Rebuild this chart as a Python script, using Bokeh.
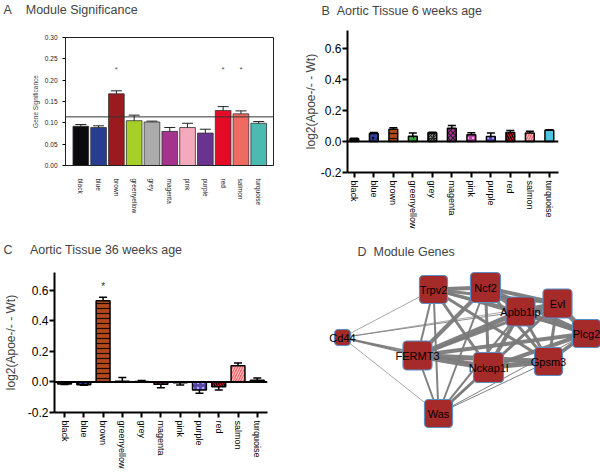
from bokeh.plotting import figure
from bokeh.layouts import column, row
from bokeh.models import (Range1d, FixedTicker, PrintfTickFormatter, Span, Whisker,
                          TeeHead, ColumnDataSource, Title)
from bokeh.embed import file_html
from bokeh.resources import INLINE
from bokeh.core.properties import value

FONT = "Liberation Sans"
NB = "\u00a0"

# ---------------- data ----------------
modules = ["black", "blue", "brown", "greenyellow", "grey", "magenta",
           "pink", "purple", "red", "salmon", "turquoise"]

# Panel A: module significance
gs_mean = [0.092, 0.089, 0.168, 0.105, 0.102, 0.080, 0.089, 0.076, 0.129, 0.121, 0.099]
gs_err = [0.004, 0.004, 0.007, 0.013, 0.002, 0.009, 0.010, 0.009, 0.009, 0.007, 0.004]
gs_threshold = 0.114
gs_star_modules = ["brown", "red", "salmon"]
gs_star_level = 0.225
gs_ticks = [0.0, 0.05, 0.10, 0.15, 0.20, 0.25, 0.30]
a_colors = ["#0b0b0d", "#283c92", "#9b1a20", "#a6cf28", "#ababab", "#a3338c",
            "#f4a9bd", "#6b3390", "#e30b25", "#ef6b62", "#4dbab1"]

# Panel B: 6 weeks
wk6_mean = [0.018, 0.052, 0.078, 0.034, 0.056, 0.085, 0.044, 0.032, 0.058, 0.054, 0.072]
wk6_err = [0.003, 0.006, 0.010, 0.020, 0.003, 0.018, 0.012, 0.022, 0.012, 0.012, 0.003]

# Panel C: 36 weeks
wk36_mean = [-0.014, -0.018, 0.530, 0.004, 0.003, -0.016, -0.006, -0.053, -0.032, 0.105, 0.010]
wk36_err = [0.003, 0.004, 0.024, 0.025, 0.006, 0.022, 0.014, 0.021, 0.021, 0.019, 0.015]
wk36_star_modules = ["brown"]
wk36_star_level = 0.625
log_ticks = [-0.2, 0.0, 0.2, 0.4, 0.6]

bc_fill = ["#111111", "#2b3f9e", "#b04a1c", "#3aa83a", "#8a8a8a", "#b0329e",
           "#b040a8", "#5844a8", "#e3102a", "#f25a66", "#4cc4e4"]
bc_hatch = [" ", "dot", "horizontal_line", "vertical_dash", "criss_cross", "diagonal_cross",
            "dot", "dot", "left_diagonal_line", "right_diagonal_line", " "]
bc_hatch_color = ["#000000", "#000000", "#1a0a05", "#0a300a", "#222222", "#222222",
                  "#ff9ad8", "#a8a8ff", "#000000", "#ffc0c0", "#000000"]

# Panel D: network (layout coordinates)
genes = ["Trpv2", "Ncf2", "Apbb1ip", "Evl", "Plcg2", "Gpsm3", "Nckap1l", "FERMT3", "Was", "Cd44"]
gene_x = [133, 185, 220, 257, 286, 248, 188, 117, 138, 42]
gene_y = [29, 27, 51, 43, 73, 101, 107, 95, 153, 77]
gene_size = [28, 30, 29, 29, 28, 28, 30, 29, 28, 16]
edge_from = ["Cd44", "Cd44", "Cd44", "Cd44", "Cd44", "Cd44",
             "Trpv2", "Trpv2", "Trpv2", "Trpv2", "Trpv2", "Trpv2", "Trpv2", "Trpv2",
             "Ncf2", "Ncf2", "Ncf2", "Ncf2", "Ncf2", "Ncf2", "Ncf2",
             "Apbb1ip", "Apbb1ip", "Apbb1ip", "Apbb1ip", "Apbb1ip", "Apbb1ip",
             "Evl", "Evl", "Evl", "Evl", "Evl",
             "Plcg2", "Plcg2", "Plcg2", "Plcg2",
             "FERMT3", "FERMT3", "FERMT3",
             "Nckap1l", "Nckap1l", "Gpsm3"]
edge_to = ["Trpv2", "Apbb1ip", "Evl", "FERMT3", "Nckap1l", "Was",
           "Ncf2", "Apbb1ip", "Evl", "Plcg2", "FERMT3", "Was", "Nckap1l", "Gpsm3",
           "Apbb1ip", "Evl", "Plcg2", "FERMT3", "Nckap1l", "Gpsm3", "Was",
           "Evl", "Plcg2", "FERMT3", "Nckap1l", "Gpsm3", "Was",
           "Plcg2", "FERMT3", "Nckap1l", "Gpsm3", "Was",
           "FERMT3", "Nckap1l", "Gpsm3", "Was",
           "Nckap1l", "Gpsm3", "Was",
           "Gpsm3", "Was", "Was"]
edge_weight = [0.7, 0.9, 0.7, 2.0, 1.4, 0.7,
               4, 3, 3, 2, 2, 2, 3, 3,
               4, 4, 4, 4, 3, 3, 2,
               5, 5, 5, 4, 3, 2,
               5, 3, 3, 3, 1.5,
               4, 4, 4, 1,
               6, 5, 2,
               5, 3, 1]

xi = list(range(len(modules)))


def no_align(p):
    try:
        p.frame_align = False
    except Exception:
        pass


def style_title(p, text, offset, gap, size="12.5px"):
    p.title.text = text
    p.title.text_font = FONT
    p.title.text_font_size = size
    p.title.text_font_style = "normal"
    p.title.align = "left"
    p.title.offset = offset
    p.title.standoff = 0
    if gap > 0:
        # an empty spacer between the panel title and the frame
        p.add_layout(Title(text=NB, text_font_size="1px", standoff=gap), "above")
    else:
        p.title.vertical_align = "top"


# ---------------- Panel A ----------------
pa = figure(width=300, height=240, output_backend="svg", toolbar_location=None,
            x_range=Range1d(-0.86, 10.83), y_range=Range1d(0, 0.30),
            min_border_left=65, min_border_right=27, min_border_top=37, min_border_bottom=75)
no_align(pa)
style_title(pa, "A" + NB * 4 + "Module Significance", -62, 18)
srcA = ColumnDataSource(dict(x=xi, top=gs_mean, color=a_colors,
                             up=[m + e for m, e in zip(gs_mean, gs_err)],
                             lo=[m - e for m, e in zip(gs_mean, gs_err)]))
pa.vbar(x="x", top="top", bottom=0, width=0.88, fill_color="color", line_color="#333333",
        line_width=0.8, source=srcA)
pa.add_layout(Whisker(source=srcA, base="x", upper="up", lower="lo", line_color="#222222",
                      line_width=1,
                      upper_head=TeeHead(size=11, line_color="#222222", line_width=1),
                      lower_head=TeeHead(size=11, line_color="#222222", line_width=1)))
pa.add_layout(Span(location=gs_threshold, dimension="width", line_color="#333333", line_width=1))
pa.text(x=[modules.index(m) for m in gs_star_modules], y=[gs_star_level] * len(gs_star_modules),
        text=["*"] * len(gs_star_modules), text_align="center", text_baseline="middle",
        text_font=value(FONT), text_font_size="8px", text_color="#555555")
pa.grid.visible = False
pa.outline_line_color = "#222222"
pa.outline_line_width = 1
pa.yaxis.ticker = FixedTicker(ticks=gs_ticks)
pa.yaxis.formatter = PrintfTickFormatter(format="%.2f")
pa.yaxis.axis_label = "Gene Significance"
pa.yaxis.axis_label_standoff = 3
pa.yaxis.major_tick_out = 3
pa.yaxis.major_tick_in = 0
pa.xaxis.ticker = FixedTicker(ticks=xi)
pa.xaxis.major_label_overrides = {i: m for i, m in enumerate(modules)}
pa.xaxis.major_label_orientation = "vertical"
pa.xaxis.major_tick_line_color = None
pa.xaxis.major_label_standoff = 7
for ax in pa.axis:
    ax.minor_tick_line_color = None
    ax.axis_line_color = "#222222"
    ax.major_label_text_font = FONT
    ax.major_label_text_font_size = "6.5px"
    ax.major_label_text_color = "#222222"
    ax.axis_label_text_font = FONT
    ax.axis_label_text_font_size = "6.5px"
    ax.axis_label_text_font_style = "normal"


def log_panel(mean, err, title, title_offset, title_gap, bar_w, height, mb,
              label_standoff, stars=None):
    p = figure(width=300, height=height, output_backend="svg", toolbar_location=None,
               x_range=Range1d(mb["xs"], mb["xe"]), y_range=Range1d(-0.2, 0.715),
               min_border_left=mb["l"], min_border_right=mb["r"],
               min_border_top=mb["t"], min_border_bottom=mb["b"])
    no_align(p)
    style_title(p, title, title_offset, title_gap)
    src = ColumnDataSource(dict(x=xi, top=mean, fill=bc_fill, hatch=bc_hatch, hc=bc_hatch_color,
                                tip=[m + e if m >= 0 else m - e for m, e in zip(mean, err)]))
    p.vbar(x="x", top="top", bottom=0, width=bar_w, fill_color="fill", hatch_pattern="hatch",
           hatch_color="hc", hatch_scale=5, hatch_weight=1.2, line_color="black", line_width=1.5,
           source=src)
    p.add_layout(Whisker(source=src, base="x", upper="tip", lower="top", line_color="black",
                         line_width=1.5, lower_head=None,
                         upper_head=TeeHead(size=8, line_color="black", line_width=1.5)))
    p.add_layout(Span(location=0, dimension="width", line_color="black", line_width=2))
    if stars:
        p.text(x=[modules.index(m) for m in stars[0]], y=[stars[1]] * len(stars[0]),
               text=["*"] * len(stars[0]), text_align="center", text_baseline="middle",
               text_font=value(FONT), text_font_size="10px", text_color="#333333")
    p.grid.visible = False
    p.outline_line_color = None
    p.yaxis.ticker = FixedTicker(ticks=log_ticks)
    p.yaxis.formatter = PrintfTickFormatter(format="%.1f")
    p.yaxis.axis_label = "log2(Apoe-/- - Wt)"
    p.yaxis.axis_label_standoff = label_standoff
    p.yaxis.major_label_standoff = 1
    p.yaxis.major_label_text_font_size = "12px"
    p.xaxis.ticker = FixedTicker(ticks=xi)
    p.xaxis.major_label_overrides = {i: m for i, m in enumerate(modules)}
    p.xaxis.major_label_orientation = "vertical"
    p.xaxis.major_label_standoff = 3
    p.xaxis.major_label_text_font_size = "9px"
    for ax in p.axis:
        ax.minor_tick_line_color = None
        ax.axis_line_color = "black"
        ax.axis_line_width = 2
        ax.major_tick_line_width = 2
        ax.major_tick_out = 5
        ax.major_tick_in = 0
        ax.major_label_text_font = FONT
        ax.major_label_text_color = "black"
        ax.axis_label_text_font = FONT
        ax.axis_label_text_font_size = "12px"
        ax.axis_label_text_font_style = "normal"
    return p


pb = log_panel(wk6_mean, wk6_err, "B" + NB * 2 + "Aortic Tissue 6 weeks age", -26, 10, 0.45,
               240, dict(xs=-0.35, xe=10.47, l=44, r=42, t=30, b=68), 0)
pc = log_panel(wk36_mean, wk36_err, "C" + NB * 5 + "Aortic Tissue 36 weeks age", -51, 13, 0.72,
               233, dict(xs=-0.52, xe=10.53, l=53, r=33, t=32, b=61), 7,
               stars=(wk36_star_modules, wk36_star_level))

# ---------------- Panel D ----------------
pd_ = figure(width=300, height=233, output_backend="svg", toolbar_location=None,
             x_range=Range1d(0, 300), y_range=Range1d(213, 0),
             min_border_left=0, min_border_right=0, min_border_top=20, min_border_bottom=0)
no_align(pd_)
style_title(pd_, "D" + NB * 2 + "Module Genes", 57, 0)
pos = {g: (x, y) for g, x, y in zip(genes, gene_x, gene_y)}
pd_.segment(x0=[pos[a][0] for a in edge_from], y0=[pos[a][1] for a in edge_from],
            x1=[pos[b][0] for b in edge_to], y1=[pos[b][1] for b in edge_to],
            line_width=edge_weight, line_color="#7a7a7a", line_alpha=0.95)
try:
    pd_.rect(x=gene_x, y=gene_y, width=gene_size, height=gene_size, fill_color="#a52a2a",
             line_color="#5b8fc7", line_width=1.2, border_radius=4)
except Exception:
    pd_.rect(x=gene_x, y=gene_y, width=gene_size, height=gene_size, fill_color="#a52a2a",
             line_color="#5b8fc7", line_width=1.2)
pd_.text(x=gene_x, y=gene_y, text=genes, text_align="center", text_baseline="middle",
         text_font=value(FONT), text_font_size="11px", text_color="black")
pd_.axis.visible = False
pd_.grid.visible = False
pd_.outline_line_color = None

layout = column(row(pa, pb), row(pc, pd_))
open("out.html", "w").write(file_html(layout, INLINE))
